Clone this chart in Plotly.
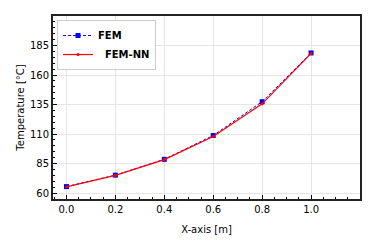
import plotly.graph_objects as go

x_vals = [0.0, 0.2, 0.4, 0.6, 0.8, 1.0]
fem = [65.5, 75.2, 88.6, 108.8, 137.4, 178.7]
fem_nn = [65.3, 75.0, 88.4, 108.0, 135.6, 178.3]
x_ticks = [0.0, 0.2, 0.4, 0.6, 0.8, 1.0]
y_ticks = [60, 85, 110, 135, 160, 185]

fig = go.Figure()
fig.add_trace(go.Scatter(
    x=x_vals, y=fem, name="FEM", mode="lines+markers",
    line=dict(color="#0000ff", width=1, dash="3px,2px"),
    marker=dict(symbol="square", size=5, color="#0000ff"),
))
fig.add_trace(go.Scatter(
    x=x_vals, y=fem_nn, name="  FEM-NN", mode="lines+markers",
    line=dict(color="#ff0000", width=1.2),
    marker=dict(symbol="circle", size=3, color="#ff0000"),
))

font = "DejaVu Sans, sans-serif"
fig.update_layout(
    width=374, height=249,
    margin=dict(l=45, r=22, t=6, b=58),
    paper_bgcolor="white", plot_bgcolor="white",
    font=dict(family=font, size=10, color="black"),
    showlegend=True,
    legend=dict(
        x=0.013, y=0.978, xanchor="left", yanchor="top",
        bgcolor="rgba(255,255,255,0.9)", bordercolor="#cccccc", borderwidth=1,
        font=dict(family=font, size=10, color="black", weight="bold"),
        itemwidth=30, tracegroupgap=0,
    ),
    xaxis=dict(
        range=[-0.055, 1.2], tickvals=x_ticks, ticktext=["%.1f" % v for v in x_ticks],
        showgrid=True, gridcolor="#e6e6e6", gridwidth=1,
        ticks="inside", ticklen=4, tickwidth=1.2, tickcolor="black",
        minor=dict(dtick=0.05, tick0=0, ticks="inside", ticklen=2, tickcolor="black", showgrid=False),
        showline=True, linecolor="#222222", linewidth=1.8, mirror=True,
        title=dict(text="X-axis [m]", font=dict(size=10), standoff=12),
        zeroline=False,
    ),
    yaxis=dict(
        range=[55, 210], tickvals=y_ticks,
        showgrid=True, gridcolor="#e6e6e6", gridwidth=1,
        ticks="inside", ticklen=4, tickwidth=1.2, tickcolor="black",
        minor=dict(dtick=5, tick0=0, ticks="inside", ticklen=2, tickcolor="black", showgrid=False),
        showline=True, linecolor="#222222", linewidth=1.8, mirror=True,
        title=dict(text="Temperature [°C]", font=dict(size=10), standoff=4),
        zeroline=False,
    ),
)

fig.write_html("out.html")
